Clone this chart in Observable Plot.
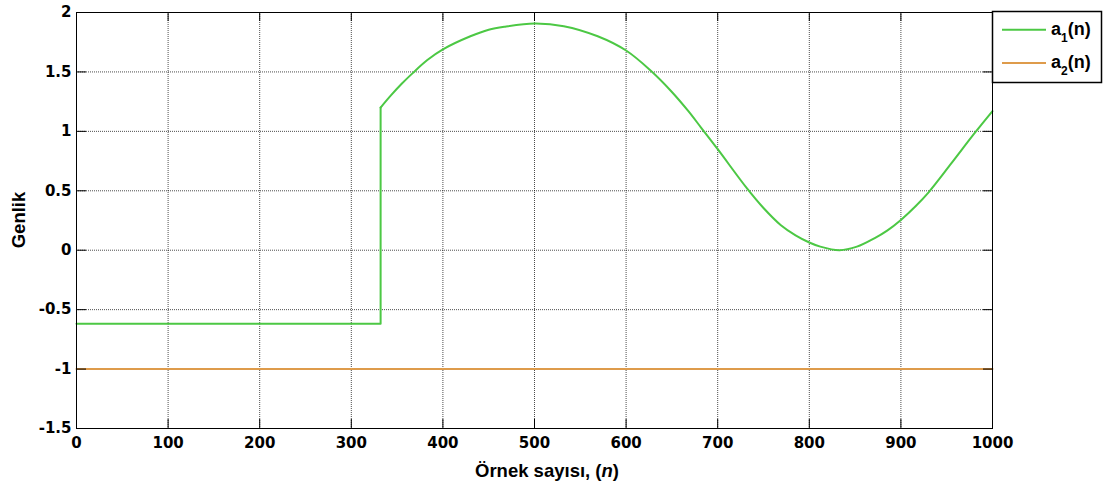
<!DOCTYPE html>
<html>
<head>
<meta charset="utf-8">
<script src="https://cdn.jsdelivr.net/npm/d3@7"></script>
<script src="https://cdn.jsdelivr.net/npm/@observablehq/plot@0.6"></script>
<style>
  body { margin: 0; background: #fff; }
</style>
</head>
<body>
<div id="chart"></div>
<script>
// Sample index n and the amplitude of a1(n) (step at n≈332, then a smooth swing)
const sampleN = [0, 332, 332, 343, 355, 367, 383, 400, 430, 450, 467, 500, 532, 569, 600, 627, 649, 668, 682, 700, 732, 750, 769, 785, 800, 812, 833, 852, 871, 885, 900, 916, 930, 955, 980, 1000];
const a1Values = [-0.618, -0.618, 1.20, 1.30, 1.40, 1.49, 1.60, 1.69, 1.80, 1.855, 1.88, 1.907, 1.885, 1.80, 1.68, 1.51, 1.34, 1.17, 1.03, 0.85, 0.52, 0.355, 0.21, 0.125, 0.065, 0.03, 0.0, 0.03, 0.10, 0.165, 0.255, 0.37, 0.485, 0.73, 0.98, 1.17];

// a2(n) stays at a constant level
const a2N = [0, 1000];
const a2Values = [-1, -1];

const xTicks = [0, 100, 200, 300, 400, 500, 600, 700, 800, 900, 1000];
const yTicks = [-1.5, -1, -0.5, 0, 0.5, 1, 1.5, 2];

const seriesColors = ["#4cc844", "#de9b4b"];

const a1Rows = sampleN.map((n, i) => ({n, v: a1Values[i]}));
const a2Rows = a2N.map((n, i) => ({n, v: a2Values[i]}));
// the flat part and the jump are straight segments; the rest is a smooth curve
const stepEnd = 2;
const a1Step = a1Rows.slice(0, stepEnd + 1);
const a1Swing = a1Rows.slice(stepEnd);

const gridStyle = {stroke: "#000", strokeOpacity: 0.7, strokeDasharray: "1,1"};
const blank = () => "";

const chart = Plot.plot({
  width: 1109,
  height: 490,
  marginLeft: 76,
  marginRight: 117,
  marginTop: 12,
  marginBottom: 62,
  style: {
    background: "#fff",
    color: "#000",
    fontFamily: "'DejaVu Sans', sans-serif",
    fontSize: "15px",
    fontWeight: "bold",
    overflow: "visible"
  },
  x: {domain: [0, 1000]},
  y: {domain: [-1.5, 2]},
  marks: [
    Plot.gridX(xTicks, gridStyle),
    Plot.gridY(yTicks, gridStyle),
    Plot.line(a2Rows, {x: "n", y: "v", stroke: seriesColors[1], strokeWidth: 2}),
    Plot.line(a1Step, {x: "n", y: "v", stroke: seriesColors[0], strokeWidth: 2}),
    Plot.line(a1Swing, {x: "n", y: "v", stroke: seriesColors[0], strokeWidth: 2, curve: "catmull-rom"}),
    Plot.frame({stroke: "#000", strokeWidth: 1}),
    // tick labels
    Plot.axisX(xTicks, {anchor: "bottom", tickSize: 0, tickPadding: 9, tickFormat: d => String(d), label: null}),
    Plot.axisY(yTicks, {anchor: "left", tickSize: 0, tickPadding: 5, tickFormat: d => String(d), label: null}),
    // inward tick marks on all four sides
    Plot.axisX(xTicks, {anchor: "bottom", tickSize: -9, tickFormat: blank, label: null}),
    Plot.axisX(xTicks, {anchor: "top", tickSize: -8, tickFormat: blank, label: null}),
    Plot.axisY(yTicks, {anchor: "left", tickSize: -10, tickFormat: blank, label: null}),
    Plot.axisY(yTicks, {anchor: "right", tickSize: -10, tickFormat: blank, label: null})
  ]
});

document.getElementById("chart").appendChild(chart);

const svg = d3.select(chart);
const titleFont = "'Liberation Sans', Arial, sans-serif";

// x-axis title
const xTitle = svg.append("text")
  .attr("x", 547)
  .attr("y", 477)
  .attr("text-anchor", "middle")
  .style("font-family", titleFont)
  .style("font-size", "18.5px")
  .style("font-weight", "bold")
  .attr("fill", "#000");
xTitle.append("tspan").text("Örnek sayısı, (");
xTitle.append("tspan").style("font-style", "italic").text("n");
xTitle.append("tspan").text(")");

// y-axis title
svg.append("text")
  .attr("transform", "translate(25,220) rotate(-90)")
  .attr("text-anchor", "middle")
  .style("font-family", titleFont)
  .style("font-size", "18.5px")
  .style("font-weight", "bold")
  .attr("fill", "#000")
  .text("Genlik");

// legend box in the top-right corner
const legend = svg.append("g");
legend.append("rect")
  .attr("x", 992.5).attr("y", 11.5)
  .attr("width", 109).attr("height", 71)
  .attr("fill", "#fff").attr("stroke", "#000").attr("stroke-width", 1.5);

const legendItems = [
  {base: "a", sub: "1", rest: "(n)", color: seriesColors[0], y: 29.7},
  {base: "a", sub: "2", rest: "(n)", color: seriesColors[1], y: 63}
];
legendItems.forEach(item => {
  legend.append("line")
    .attr("x1", 1002).attr("x2", 1046)
    .attr("y1", item.y).attr("y2", item.y)
    .attr("stroke", item.color).attr("stroke-width", 2);
  const t = legend.append("text")
    .attr("x", 1051)
    .attr("y", item.y + 5)
    .attr("text-anchor", "start")
    .style("font-family", titleFont)
    .style("font-size", "18px")
    .style("font-weight", "bold")
    .attr("fill", "#000");
  t.append("tspan").text(item.base);
  t.append("tspan").attr("dy", 7).style("font-size", "12px").text(item.sub);
  t.append("tspan").attr("dy", -7).text(item.rest);
});
</script>
</body>
</html>
